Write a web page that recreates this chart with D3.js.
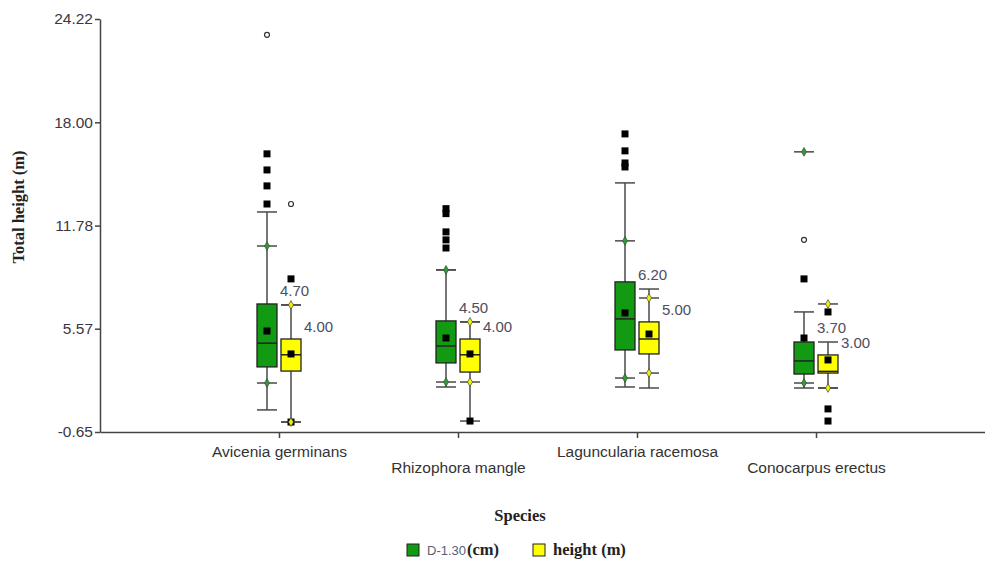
<!DOCTYPE html>
<html>
<head>
<meta charset="utf-8">
<script src="https://cdn.jsdelivr.net/npm/d3@7"></script>
<style>
  body { margin: 0; background: #fff; }
  svg { display: block; }
</style>
</head>
<body>
<div id="chart"></div>
<script>
// species on the x axis
const species = ['Avicenia germinans', 'Rhizophora mangle', 'Laguncularia racemosa', 'Conocarpus erectus'];
const yTicks = [-0.65, 5.57, 11.78, 18.00, 24.22];

// D-1.30 (cm), green boxes
const diamQ1 = [3.27, 3.51, 4.29, 2.84];
const diamMedian = [4.70, 4.53, 6.16, 3.63];
const diamQ3 = [7.06, 6.04, 8.39, 4.77];
const diamMean = [5.43, 5.01, 6.52, 5.01];
const diamMin = [0.68, 2.06, 2.06, 2.00];
const diamMax = [12.60, 9.11, 14.35, 6.58];
const diamPLow = [2.30, 2.36, 2.60, 2.30];
const diamPHigh = [10.55, 9.11, 10.86, 16.22];
const diamOutliers = [[13.08, 14.17, 15.13, 16.10], [10.43, 10.92, 11.40, 12.50, 12.80], [15.31, 15.55, 16.28, 17.30], [8.57]];
const diamExtremes = [[23.27], [], [], [10.92]];
const diamLabels = ['4.70', '4.50', '6.20', '3.70'];

// height (m), yellow boxes
const htQ1 = [3.02, 2.96, 4.05, 2.90];
const htMedian = [4.00, 4.00, 4.95, 3.00];
const htQ3 = [4.95, 4.95, 5.98, 3.99];
const htMean = [4.05, 4.05, 5.25, 3.69];
const htMin = [-0.05, 0.01, 2.00, 2.00];
const htMax = [7.00, 5.98, 7.96, 4.77];
const htPLow = [-0.05, 2.36, 2.90, 2.00];
const htPHigh = [7.00, 5.98, 7.42, 7.06];
const htOutliers = [[8.57, -0.05], [0.01], [], [6.58, 0.74, 0.01]];
const htExtremes = [[13.08], [], [], []];
const htLabels = ['4.00', '4.00', '5.00', '3.00'];

const width = 985, height = 561;
const margin = { top: 19, left: 100, bottom: 129 };
const sans = 'Arial, "Liberation Sans", sans-serif';
const serif = '"Liberation Serif", "Times New Roman", serif';

const svg = d3.select('#chart').append('svg')
  .attr('width', width)
  .attr('height', height);

const x = d3.scalePoint().domain(species).range([margin.left, 995]).padding(1);
const y = d3.scaleLinear().domain([-0.65, 24.22]).range([height - margin.bottom, margin.top]);

// axes
const yAxis = svg.append('g')
  .attr('transform', `translate(${margin.left},0)`)
  .call(d3.axisLeft(y).tickValues(yTicks).tickFormat(d => d.toFixed(2)).tickSize(5).tickSizeOuter(0));
yAxis.select('.domain').attr('stroke', '#444').attr('stroke-width', 1.5);
yAxis.selectAll('.tick line').attr('stroke', '#444').attr('stroke-width', 1.5);
yAxis.selectAll('.tick text')
  .attr('x', -7)
  .style('font-family', sans)
  .style('font-size', '15.5px')
  .attr('fill', '#3d3545');

const xAxis = svg.append('g')
  .attr('transform', `translate(0,${y(-0.65)})`)
  .call(d3.axisBottom(x).tickSize(6).tickSizeOuter(0));
xAxis.select('.domain').attr('stroke', '#444').attr('stroke-width', 1.5);
xAxis.selectAll('.tick line').attr('stroke', '#444').attr('stroke-width', 1.5);
xAxis.selectAll('.tick text')
  .attr('y', (d, i) => i % 2 === 0 ? 25 : 41)
  .attr('dy', 0)
  .style('font-family', sans)
  .style('font-size', '15.5px')
  .attr('fill', '#333');

svg.append('text')
  .attr('transform', 'translate(24,207) rotate(-90)')
  .attr('text-anchor', 'middle')
  .style('font-family', serif)
  .style('font-weight', 'bold')
  .style('font-size', '16.5px')
  .attr('fill', '#222')
  .text('Total height (m)');

svg.append('text')
  .attr('x', 520).attr('y', 521)
  .attr('text-anchor', 'middle')
  .style('font-family', serif)
  .style('font-weight', 'bold')
  .style('font-size', '16.5px')
  .attr('fill', '#222')
  .text('Species');

const series = [
  { fill: '#139a13', marker: '#2e9e2e', off: -12, q1: diamQ1, med: diamMedian, q3: diamQ3, mean: diamMean,
    lo: diamMin, hi: diamMax, pLo: diamPLow, pHi: diamPHigh, out: diamOutliers, ext: diamExtremes },
  { fill: '#ffff00', marker: '#f2f200', off: 12, q1: htQ1, med: htMedian, q3: htQ3, mean: htMean,
    lo: htMin, hi: htMax, pLo: htPLow, pHi: htPHigh, out: htOutliers, ext: htExtremes }
];

const boxW = 20, capW = 20, whiskerColor = '#4a4a4a';
const plot = svg.append('g');

series.forEach(s => {
  species.forEach((sp, i) => {
    const cx = x(sp) + s.off;
    const g = plot.append('g');
    // whiskers and caps
    g.append('line').attr('x1', cx).attr('x2', cx).attr('y1', y(s.q3[i])).attr('y2', y(s.hi[i]))
      .attr('stroke', whiskerColor).attr('stroke-width', 1.5);
    g.append('line').attr('x1', cx).attr('x2', cx).attr('y1', y(s.q1[i])).attr('y2', y(s.lo[i]))
      .attr('stroke', whiskerColor).attr('stroke-width', 1.5);
    [s.hi[i], s.lo[i], s.pLo[i], s.pHi[i]].forEach(v => {
      g.append('line').attr('x1', cx - capW / 2).attr('x2', cx + capW / 2).attr('y1', y(v)).attr('y2', y(v))
        .attr('stroke', whiskerColor).attr('stroke-width', 1.5);
    });
    // box
    g.append('rect')
      .attr('x', cx - boxW / 2).attr('width', boxW)
      .attr('y', y(s.q3[i])).attr('height', y(s.q1[i]) - y(s.q3[i]))
      .attr('fill', s.fill).attr('stroke', '#222').attr('stroke-width', 1.3);
    g.append('line').attr('x1', cx - boxW / 2).attr('x2', cx + boxW / 2)
      .attr('y1', y(s.med[i])).attr('y2', y(s.med[i]))
      .attr('stroke', '#222').attr('stroke-width', 1.5);
    // outliers and mean
    s.out[i].forEach(v => {
      g.append('rect').attr('x', cx - 3.5).attr('y', y(v) - 3.5).attr('width', 7).attr('height', 7).attr('fill', '#000');
    });
    g.append('rect').attr('x', cx - 3.5).attr('y', y(s.mean[i]) - 3.5).attr('width', 7).attr('height', 7).attr('fill', '#000');
    s.ext[i].forEach(v => {
      g.append('circle').attr('cx', cx).attr('cy', y(v)).attr('r', 2.5)
        .attr('fill', '#fff').attr('stroke', '#333').attr('stroke-width', 1.2);
    });
    // percentile diamonds
    [s.pLo[i], s.pHi[i]].forEach(v => {
      g.append('path')
        .attr('d', d3.symbol().type(d3.symbolDiamond).size(22))
        .attr('transform', `translate(${cx},${y(v)})`)
        .attr('fill', s.marker).attr('stroke', '#444').attr('stroke-width', 0.7);
    });
  });
});

// median labels
species.forEach((sp, i) => {
  svg.append('text')
    .attr('x', x(sp) + 1).attr('y', y(htMax[i]) - 9)
    .style('font-family', sans).style('font-size', '15px').attr('fill', '#4e4e5c')
    .text(diamLabels[i]);
  svg.append('text')
    .attr('x', x(sp) + 25).attr('y', y(htQ3[i]) - 7)
    .style('font-family', sans).style('font-size', '15px').attr('fill', '#4e4e5c')
    .text(htLabels[i]);
});

// legend
const legend = svg.append('g').attr('transform', 'translate(407,544)');
legend.append('rect').attr('width', 12).attr('height', 12).attr('fill', '#139a13').attr('stroke', '#222');
legend.append('text').attr('x', 20).attr('y', 11)
  .style('font-family', sans).style('font-size', '13px').attr('fill', '#5a6078')
  .text('D-1.30');
legend.append('text').attr('x', 60).attr('y', 11)
  .style('font-family', serif).style('font-weight', 'bold').style('font-size', '16.5px').attr('fill', '#222')
  .text('(cm)');
legend.append('rect').attr('x', 126).attr('width', 12).attr('height', 12).attr('fill', '#ffff00').attr('stroke', '#222');
legend.append('text').attr('x', 146).attr('y', 11)
  .style('font-family', serif).style('font-weight', 'bold').style('font-size', '16.5px').attr('fill', '#222')
  .text('height (m)');
</script>
</body>
</html>
